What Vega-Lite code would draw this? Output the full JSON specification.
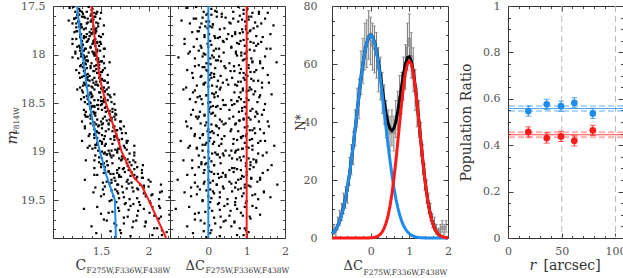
{
"$schema":"https://vega.github.io/schema/vega-lite/v6.json",
"padding":{"left":3,"top":-1,"right":0,"bottom":0},
"background":"white",
"config":{
 "view":{"stroke":"#333","strokeWidth":1},
 "axis":{"domain":false,"grid":false,"labelFont":"DejaVu Serif","labelFontSize":11,"labelColor":"#555","tickColor":"#444","tickWidth":1,"titleFont":"DejaVu Serif","titleFontSize":14,"titleFontWeight":"normal","titleColor":"#333","labelFlush":false,"labelOverlap":false}
},
"datasets":{
"stars":[
{"m":17.51,"c":1.21,"d":-0.32},{"m":17.53,"c":1.27,"d":0.08},{"m":17.56,"c":1.23,"d":-0.12},{"m":17.58,"c":1.31,"d":0.35},{"m":17.52,"c":1.17,"d":-0.55},{"m":17.55,"c":1.28,"d":0.18},{"m":17.59,"c":1.25,"d":-0.05},{"m":17.54,"c":1.40,"d":0.92},{"m":17.57,"c":1.43,"d":1.15},{"m":17.51,"c":1.37,"d":0.78},{"m":17.58,"c":1.45,"d":1.32},{"m":17.53,"c":1.41,"d":1.02},{"m":17.56,"c":1.35,"d":0.65},
{"m":17.61,"c":1.30,"d":0.22},{"m":17.63,"c":1.22,"d":-0.38},{"m":17.66,"c":1.27,"d":0.02},{"m":17.68,"c":1.24,"d":-0.18},{"m":17.62,"c":1.33,"d":0.45},{"m":17.65,"c":1.16,"d":-0.70},{"m":17.69,"c":1.29,"d":0.12},{"m":17.64,"c":1.40,"d":0.88},{"m":17.67,"c":1.45,"d":1.22},{"m":17.61,"c":1.43,"d":1.05},{"m":17.68,"c":1.35,"d":0.58},{"m":17.63,"c":1.49,"d":1.48},{"m":17.66,"c":1.41,"d":0.96},
{"m":17.71,"c":1.27,"d":-0.08},{"m":17.74,"c":1.32,"d":0.30},{"m":17.77,"c":1.22,"d":-0.42},{"m":17.72,"c":1.30,"d":0.10},{"m":17.76,"c":1.24,"d":-0.25},{"m":17.79,"c":1.35,"d":0.52},{"m":17.73,"c":1.28,"d":-0.02},{"m":17.75,"c":1.44,"d":1.10},{"m":17.78,"c":1.40,"d":0.82},{"m":17.71,"c":1.47,"d":1.28},{"m":17.77,"c":1.38,"d":0.70},{"m":17.74,"c":1.43,"d":0.98},{"m":17.79,"c":1.52,"d":1.62},
{"m":17.81,"c":1.32,"d":0.16},{"m":17.84,"c":1.24,"d":-0.30},{"m":17.87,"c":1.35,"d":0.40},{"m":17.82,"c":1.28,"d":-0.10},{"m":17.86,"c":1.30,"d":0.05},{"m":17.89,"c":1.20,"d":-0.62},{"m":17.83,"c":1.32,"d":0.25},{"m":17.85,"c":1.43,"d":0.92},{"m":17.88,"c":1.46,"d":1.18},{"m":17.81,"c":1.38,"d":0.62},{"m":17.87,"c":1.49,"d":1.38},{"m":17.84,"c":1.44,"d":1.02},{"m":17.89,"c":1.41,"d":0.80},
{"m":17.91,"c":1.27,"d":-0.20},{"m":17.94,"c":1.34,"d":0.28},{"m":17.97,"c":1.23,"d":-0.48},{"m":17.92,"c":1.30,"d":0.00},{"m":17.96,"c":1.32,"d":0.14},{"m":17.99,"c":1.29,"d":-0.12},{"m":17.93,"c":1.39,"d":0.60},{"m":17.95,"c":1.46,"d":1.08},{"m":17.98,"c":1.43,"d":0.86},{"m":17.91,"c":1.48,"d":1.25},{"m":17.97,"c":1.41,"d":0.72},{"m":17.94,"c":1.53,"d":1.52},{"m":17.99,"c":1.44,"d":0.95},
{"m":18.01,"c":1.32,"d":0.10},{"m":18.04,"c":1.26,"d":-0.35},{"m":18.07,"c":1.36,"d":0.33},{"m":18.02,"c":1.29,"d":-0.15},{"m":18.06,"c":1.34,"d":0.20},{"m":18.09,"c":1.31,"d":-0.05},{"m":18.03,"c":1.20,"d":-0.78},{"m":18.05,"c":1.45,"d":0.94},{"m":18.08,"c":1.48,"d":1.15},{"m":18.01,"c":1.43,"d":0.75},{"m":18.07,"c":1.51,"d":1.35},{"m":18.04,"c":1.46,"d":1.00},{"m":18.09,"c":1.40,"d":0.55},
{"m":18.11,"c":1.29,"d":-0.25},{"m":18.14,"c":1.35,"d":0.18},{"m":18.17,"c":1.32,"d":-0.02},{"m":18.12,"c":1.39,"d":0.42},{"m":18.16,"c":1.24,"d":-0.55},{"m":18.19,"c":1.33,"d":0.08},{"m":18.13,"c":1.31,"d":-0.10},{"m":18.15,"c":1.45,"d":0.85},{"m":18.18,"c":1.51,"d":1.20},{"m":18.11,"c":1.48,"d":1.05},{"m":18.17,"c":1.43,"d":0.68},{"m":18.14,"c":1.54,"d":1.42},{"m":18.19,"c":1.46,"d":0.92},
{"m":18.21,"c":1.34,"d":0.05},{"m":18.24,"c":1.28,"d":-0.40},{"m":18.27,"c":1.38,"d":0.25},{"m":18.22,"c":1.32,"d":-0.18},{"m":18.26,"c":1.41,"d":0.48},{"m":18.29,"c":1.32,"d":-0.08},{"m":18.23,"c":1.36,"d":0.15},{"m":18.25,"c":1.51,"d":1.12},{"m":18.28,"c":1.45,"d":0.78},{"m":18.21,"c":1.49,"d":0.98},{"m":18.27,"c":1.54,"d":1.30},{"m":18.24,"c":1.43,"d":0.62},{"m":18.29,"c":1.57,"d":1.58},
{"m":18.31,"c":1.33,"d":-0.12},{"m":18.34,"c":1.41,"d":0.32},{"m":18.37,"c":1.30,"d":-0.35},{"m":18.32,"c":1.37,"d":0.10},{"m":18.36,"c":1.25,"d":-0.65},{"m":18.39,"c":1.39,"d":0.20},{"m":18.33,"c":1.35,"d":0.00},{"m":18.35,"c":1.50,"d":0.90},{"m":18.38,"c":1.54,"d":1.22},{"m":18.31,"c":1.46,"d":0.70},{"m":18.37,"c":1.52,"d":1.05},{"m":18.34,"c":1.58,"d":1.40},{"m":18.39,"c":1.49,"d":0.84},
{"m":18.41,"c":1.40,"d":0.15},{"m":18.44,"c":1.32,"d":-0.28},{"m":18.47,"c":1.43,"d":0.38},{"m":18.42,"c":1.36,"d":-0.05},{"m":18.46,"c":1.29,"d":-0.48},{"m":18.49,"c":1.38,"d":0.05},{"m":18.43,"c":1.41,"d":0.25},{"m":18.45,"c":1.54,"d":1.00},{"m":18.48,"c":1.50,"d":0.76},{"m":18.41,"c":1.57,"d":1.18},{"m":18.47,"c":1.47,"d":0.60},{"m":18.44,"c":1.60,"d":1.33},{"m":18.49,"c":1.53,"d":0.94},
{"m":18.51,"c":1.36,"d":-0.15},{"m":18.54,"c":1.43,"d":0.20},{"m":18.57,"c":1.32,"d":-0.40},{"m":18.52,"c":1.47,"d":0.45},{"m":18.56,"c":1.39,"d":0.02},{"m":18.59,"c":1.34,"d":-0.22},{"m":18.53,"c":1.41,"d":0.12},{"m":18.55,"c":1.54,"d":0.88},{"m":18.58,"c":1.59,"d":1.10},{"m":18.51,"c":1.51,"d":0.68},{"m":18.57,"c":1.65,"d":1.45},{"m":18.54,"c":1.56,"d":0.98},{"m":18.59,"c":1.62,"d":1.25},
{"m":18.61,"c":1.43,"d":0.08},{"m":18.64,"c":1.34,"d":-0.32},{"m":18.67,"c":1.46,"d":0.30},{"m":18.62,"c":1.39,"d":-0.10},{"m":18.66,"c":1.52,"d":0.55},{"m":18.69,"c":1.30,"d":-0.58},{"m":18.63,"c":1.44,"d":0.18},{"m":18.65,"c":1.61,"d":1.05},{"m":18.68,"c":1.56,"d":0.80},{"m":18.61,"c":1.65,"d":1.28},{"m":18.67,"c":1.59,"d":0.92},{"m":18.64,"c":1.54,"d":0.65},{"m":18.69,"c":1.71,"d":1.55},
{"m":18.71,"c":1.39,"d":-0.20},{"m":18.74,"c":1.47,"d":0.22},{"m":18.77,"c":1.43,"d":0.00},{"m":18.72,"c":1.51,"d":0.40},{"m":18.76,"c":1.33,"d":-0.45},{"m":18.79,"c":1.45,"d":0.10},{"m":18.73,"c":1.42,"d":-0.08},{"m":18.75,"c":1.63,"d":0.95},{"m":18.78,"c":1.66,"d":1.15},{"m":18.71,"c":1.58,"d":0.72},{"m":18.77,"c":1.71,"d":1.35},{"m":18.74,"c":1.64,"d":1.02},{"m":18.79,"c":1.55,"d":0.58},
{"m":18.81,"c":1.48,"d":0.14},{"m":18.84,"c":1.37,"d":-0.36},{"m":18.87,"c":1.53,"d":0.35},{"m":18.82,"c":1.43,"d":-0.14},{"m":18.86,"c":1.46,"d":0.05},{"m":18.89,"c":1.30,"d":-0.72},{"m":18.83,"c":1.51,"d":0.25},{"m":18.85,"c":1.64,"d":0.85},{"m":18.88,"c":1.69,"d":1.08},{"m":18.81,"c":1.72,"d":1.22},{"m":18.87,"c":1.60,"d":0.66},{"m":18.84,"c":1.66,"d":0.98},{"m":18.89,"c":1.77,"d":1.48},
{"m":18.91,"c":1.46,"d":-0.05},{"m":18.94,"c":1.54,"d":0.28},{"m":18.97,"c":1.41,"d":-0.30},{"m":18.92,"c":1.51,"d":0.12},{"m":18.96,"c":1.36,"d":-0.52},{"m":18.99,"c":1.58,"d":0.45},{"m":18.93,"c":1.44,"d":-0.15},{"m":18.95,"c":1.70,"d":1.00},{"m":18.98,"c":1.65,"d":0.78},{"m":18.91,"c":1.77,"d":1.30},{"m":18.97,"c":1.68,"d":0.90},{"m":18.94,"c":1.74,"d":1.15},{"m":18.99,"c":1.61,"d":0.60},
{"m":19.01,"c":1.54,"d":0.18},{"m":19.04,"c":1.44,"d":-0.25},{"m":19.07,"c":1.51,"d":0.02},{"m":19.02,"c":1.59,"d":0.38},{"m":19.06,"c":1.48,"d":-0.10},{"m":19.09,"c":1.34,"d":-0.65},{"m":19.03,"c":1.56,"d":0.25},{"m":19.05,"c":1.72,"d":0.92},{"m":19.08,"c":1.78,"d":1.18},{"m":19.01,"c":1.67,"d":0.70},{"m":19.07,"c":1.75,"d":1.05},{"m":19.04,"c":1.85,"d":1.42},{"m":19.09,"c":1.71,"d":0.85},
{"m":19.11,"c":1.48,"d":-0.18},{"m":19.14,"c":1.57,"d":0.15},{"m":19.17,"c":1.43,"d":-0.42},{"m":19.12,"c":1.62,"d":0.32},{"m":19.16,"c":1.54,"d":0.00},{"m":19.19,"c":1.67,"d":0.55},{"m":19.13,"c":1.51,"d":-0.08},{"m":19.15,"c":1.78,"d":0.98},{"m":19.18,"c":1.73,"d":0.75},{"m":19.11,"c":1.86,"d":1.25},{"m":19.17,"c":1.69,"d":0.62},{"m":19.14,"c":1.82,"d":1.10},{"m":19.19,"c":1.93,"d":1.55},
{"m":19.21,"c":1.58,"d":0.08},{"m":19.24,"c":1.46,"d":-0.35},{"m":19.27,"c":1.64,"d":0.28},{"m":19.22,"c":1.53,"d":-0.12},{"m":19.26,"c":1.69,"d":0.45},{"m":19.29,"c":1.33,"d":-0.80},{"m":19.23,"c":1.60,"d":0.15},{"m":19.25,"c":1.81,"d":0.88},{"m":19.28,"c":1.87,"d":1.12},{"m":19.21,"c":1.75,"d":0.66},{"m":19.27,"c":1.94,"d":1.35},{"m":19.24,"c":1.85,"d":1.00},{"m":19.29,"c":1.78,"d":0.78},
{"m":19.31,"c":1.56,"d":-0.10},{"m":19.34,"c":1.67,"d":0.22},{"m":19.37,"c":1.44,"d":-0.45},{"m":19.32,"c":1.61,"d":0.05},{"m":19.36,"c":1.72,"d":0.38},{"m":19.39,"c":1.52,"d":-0.22},{"m":19.33,"c":1.79,"d":0.60},{"m":19.35,"c":1.95,"d":1.05},{"m":19.38,"c":1.88,"d":0.85},{"m":19.31,"c":2.02,"d":1.28},{"m":19.37,"c":1.83,"d":0.70},{"m":19.34,"c":1.91,"d":0.95},
{"m":19.41,"c":1.67,"d":0.12},{"m":19.44,"c":1.53,"d":-0.30},{"m":19.47,"c":1.74,"d":0.30},{"m":19.42,"c":1.42,"d":-0.62},{"m":19.46,"c":1.63,"d":0.00},{"m":19.49,"c":1.80,"d":0.50},{"m":19.43,"c":1.95,"d":0.92},{"m":19.45,"c":2.03,"d":1.15},{"m":19.48,"c":1.88,"d":0.72},{"m":19.41,"c":2.14,"d":1.45},
{"m":19.51,"c":1.59,"d":-0.15},{"m":19.54,"c":1.75,"d":0.25},{"m":19.57,"c":1.46,"d":-0.50},{"m":19.52,"c":1.66,"d":0.05},{"m":19.56,"c":1.81,"d":0.42},{"m":19.59,"c":1.32,"d":-0.85},{"m":19.53,"c":2.02,"d":0.98},{"m":19.55,"c":1.91,"d":0.70},{"m":19.58,"c":2.12,"d":1.25},
{"m":19.61,"c":1.69,"d":0.10},{"m":19.64,"c":1.50,"d":-0.35},{"m":19.67,"c":1.78,"d":0.32},{"m":19.62,"c":1.62,"d":-0.08},{"m":19.66,"c":1.88,"d":0.55},{"m":19.69,"c":2.11,"d":1.10},{"m":19.63,"c":2.01,"d":0.85},{"m":19.65,"c":2.22,"d":1.35},
{"m":19.71,"c":1.56,"d":-0.20},{"m":19.74,"c":1.74,"d":0.18},{"m":19.77,"c":1.40,"d":-0.55},{"m":19.72,"c":1.84,"d":0.40},{"m":19.76,"c":1.66,"d":0.02},{"m":19.79,"c":2.09,"d":0.95},{"m":19.73,"c":1.97,"d":0.68},
{"m":19.81,"c":1.70,"d":0.08},{"m":19.84,"c":1.45,"d":-0.40},{"m":19.87,"c":1.81,"d":0.30},{"m":19.82,"c":1.60,"d":-0.12},{"m":19.86,"c":2.04,"d":0.75},{"m":19.83,"c":2.19,"d":1.05},
{"m":17.56,"c":1.46,"d":1.32},{"m":17.58,"c":1.40,"d":0.92},{"m":17.61,"c":1.44,"d":1.12},{"m":17.63,"c":1.36,"d":0.65},{"m":17.57,"c":1.50,"d":1.55},{"m":17.60,"c":1.39,"d":0.82},{"m":17.64,"c":1.42,"d":1.05},{"m":17.59,"c":1.27,"d":0.08},{"m":17.62,"c":1.24,"d":-0.15},{"m":17.56,"c":1.30,"d":0.22},{"m":17.63,"c":1.22,"d":-0.32},{"m":17.58,"c":1.26,"d":-0.02},{"m":17.61,"c":1.32,"d":0.35},
{"m":17.66,"c":1.39,"d":0.78},{"m":17.68,"c":1.47,"d":1.38},{"m":17.71,"c":1.42,"d":0.98},{"m":17.73,"c":1.45,"d":1.18},{"m":17.67,"c":1.36,"d":0.55},{"m":17.70,"c":1.53,"d":1.70},{"m":17.74,"c":1.40,"d":0.88},{"m":17.69,"c":1.29,"d":0.12},{"m":17.72,"c":1.24,"d":-0.22},{"m":17.66,"c":1.26,"d":-0.05},{"m":17.73,"c":1.34,"d":0.42},{"m":17.68,"c":1.20,"d":-0.48},{"m":17.71,"c":1.28,"d":0.04},
{"m":17.76,"c":1.45,"d":1.08},{"m":17.79,"c":1.40,"d":0.70},{"m":17.82,"c":1.50,"d":1.42},{"m":17.77,"c":1.42,"d":0.90},{"m":17.81,"c":1.48,"d":1.25},{"m":17.84,"c":1.37,"d":0.48},{"m":17.78,"c":1.44,"d":1.02},{"m":17.80,"c":1.28,"d":-0.10},{"m":17.83,"c":1.32,"d":0.18},{"m":17.76,"c":1.25,"d":-0.28},{"m":17.82,"c":1.34,"d":0.30},{"m":17.79,"c":1.29,"d":0.02},{"m":17.84,"c":1.20,"d":-0.62},
{"m":17.86,"c":1.42,"d":0.84},{"m":17.89,"c":1.50,"d":1.30},{"m":17.92,"c":1.39,"d":0.60},{"m":17.87,"c":1.46,"d":1.10},{"m":17.91,"c":1.44,"d":0.95},{"m":17.94,"c":1.54,"d":1.62},{"m":17.88,"c":1.42,"d":0.75},{"m":17.90,"c":1.31,"d":0.08},{"m":17.93,"c":1.28,"d":-0.18},{"m":17.86,"c":1.36,"d":0.38},{"m":17.92,"c":1.25,"d":-0.38},{"m":17.89,"c":1.30,"d":-0.02},{"m":17.94,"c":1.33,"d":0.20},
{"m":17.96,"c":1.49,"d":1.20},{"m":17.99,"c":1.42,"d":0.72},{"m":18.02,"c":1.53,"d":1.48},{"m":17.97,"c":1.46,"d":1.00},{"m":18.01,"c":1.44,"d":0.86},{"m":18.04,"c":1.47,"d":1.12},{"m":17.98,"c":1.37,"d":0.40},{"m":18.00,"c":1.30,"d":-0.08},{"m":18.03,"c":1.33,"d":0.14},{"m":17.96,"c":1.28,"d":-0.25},{"m":18.02,"c":1.35,"d":0.28},{"m":17.99,"c":1.23,"d":-0.52},{"m":18.04,"c":1.32,"d":0.05},
{"m":18.06,"c":1.47,"d":0.90},{"m":18.09,"c":1.53,"d":1.35},{"m":18.12,"c":1.43,"d":0.67},{"m":18.07,"c":1.50,"d":1.15},{"m":18.11,"c":1.45,"d":0.80},{"m":18.14,"c":1.48,"d":1.05},{"m":18.08,"c":1.59,"d":1.78},{"m":18.10,"c":1.34,"d":0.06},{"m":18.13,"c":1.31,"d":-0.15},{"m":18.06,"c":1.36,"d":0.25},{"m":18.12,"c":1.28,"d":-0.35},{"m":18.09,"c":1.33,"d":0.00},{"m":18.14,"c":1.39,"d":0.45},
{"m":18.16,"c":1.52,"d":1.25},{"m":18.19,"c":1.46,"d":0.82},{"m":18.22,"c":1.49,"d":1.02},{"m":18.17,"c":1.42,"d":0.58},{"m":18.21,"c":1.57,"d":1.55},{"m":18.24,"c":1.48,"d":0.92},{"m":18.18,"c":1.50,"d":1.10},{"m":18.20,"c":1.36,"d":0.15},{"m":18.23,"c":1.30,"d":-0.20},{"m":18.16,"c":1.33,"d":-0.05},{"m":18.22,"c":1.38,"d":0.32},{"m":18.19,"c":1.27,"d":-0.42},{"m":18.24,"c":1.35,"d":0.08},
{"m":18.26,"c":1.51,"d":0.95},{"m":18.29,"c":1.57,"d":1.40},{"m":18.32,"c":1.47,"d":0.75},{"m":18.27,"c":1.53,"d":1.18},{"m":18.31,"c":1.44,"d":0.52},{"m":18.34,"c":1.53,"d":1.08},{"m":18.28,"c":1.49,"d":0.85},{"m":18.30,"c":1.34,"d":-0.12},{"m":18.33,"c":1.40,"d":0.22},{"m":18.26,"c":1.36,"d":0.02},{"m":18.32,"c":1.31,"d":-0.30},{"m":18.29,"c":1.42,"d":0.38},{"m":18.34,"c":1.28,"d":-0.58},
{"m":18.36,"c":1.56,"d":1.12},{"m":18.39,"c":1.48,"d":0.68},{"m":18.42,"c":1.59,"d":1.35},{"m":18.37,"c":1.52,"d":0.90},{"m":18.41,"c":1.64,"d":1.65},{"m":18.44,"c":1.50,"d":0.80},{"m":18.38,"c":1.54,"d":1.00},{"m":18.40,"c":1.39,"d":0.10},{"m":18.43,"c":1.35,"d":-0.22},{"m":18.36,"c":1.43,"d":0.30},{"m":18.42,"c":1.37,"d":-0.05},{"m":18.39,"c":1.31,"d":-0.40},{"m":18.44,"c":1.40,"d":0.16},
{"m":18.46,"c":1.53,"d":0.85},{"m":18.49,"c":1.61,"d":1.28},{"m":18.52,"c":1.50,"d":0.62},{"m":18.47,"c":1.57,"d":1.05},{"m":18.51,"c":1.64,"d":1.48},{"m":18.54,"c":1.55,"d":0.95},{"m":18.48,"c":1.52,"d":0.75},{"m":18.50,"c":1.39,"d":0.00},{"m":18.53,"c":1.43,"d":0.24},{"m":18.46,"c":1.36,"d":-0.18},{"m":18.52,"c":1.46,"d":0.40},{"m":18.49,"c":1.33,"d":-0.33},{"m":18.54,"c":1.40,"d":0.06},
{"m":18.56,"c":1.62,"d":1.15},{"m":18.59,"c":1.55,"d":0.80},{"m":18.62,"c":1.66,"d":1.40},{"m":18.57,"c":1.51,"d":0.55},{"m":18.61,"c":1.59,"d":0.98},{"m":18.64,"c":1.64,"d":1.22},{"m":18.58,"c":1.57,"d":0.88},{"m":18.60,"c":1.44,"d":0.12},{"m":18.63,"c":1.39,"d":-0.10},{"m":18.56,"c":1.47,"d":0.32},{"m":18.62,"c":1.33,"d":-0.45},{"m":18.59,"c":1.42,"d":0.02},{"m":18.64,"c":1.36,"d":-0.25},
{"m":18.66,"c":1.61,"d":0.92},{"m":18.69,"c":1.70,"d":1.32},{"m":18.72,"c":1.58,"d":0.70},{"m":18.67,"c":1.65,"d":1.10},{"m":18.71,"c":1.52,"d":0.45},{"m":18.74,"c":1.74,"d":1.58},{"m":18.68,"c":1.60,"d":0.82},{"m":18.70,"c":1.43,"d":-0.05},{"m":18.73,"c":1.48,"d":0.20},{"m":18.66,"c":1.39,"d":-0.28},{"m":18.72,"c":1.45,"d":0.08},{"m":18.69,"c":1.50,"d":0.35},{"m":18.74,"c":1.33,"d":-0.55},
{"m":18.76,"c":1.70,"d":1.20},{"m":18.79,"c":1.62,"d":0.78},{"m":18.82,"c":1.66,"d":1.00},{"m":18.77,"c":1.58,"d":0.60},{"m":18.81,"c":1.76,"d":1.45},{"m":18.84,"c":1.64,"d":0.90},{"m":18.78,"c":1.67,"d":1.08},{"m":18.80,"c":1.46,"d":0.05},{"m":18.83,"c":1.43,"d":-0.15},{"m":18.76,"c":1.51,"d":0.28},{"m":18.82,"c":1.38,"d":-0.35},{"m":18.79,"c":1.45,"d":-0.02},{"m":18.84,"c":1.54,"d":0.42},
{"m":18.86,"c":1.67,"d":0.86},{"m":18.89,"c":1.78,"d":1.36},{"m":18.92,"c":1.62,"d":0.65},{"m":18.87,"c":1.72,"d":1.14},{"m":18.91,"c":1.69,"d":0.95},{"m":18.94,"c":1.85,"d":1.72},{"m":18.88,"c":1.64,"d":0.75},{"m":18.90,"c":1.51,"d":0.15},{"m":18.93,"c":1.46,"d":-0.08},{"m":18.86,"c":1.43,"d":-0.22},{"m":18.92,"c":1.55,"d":0.34},{"m":18.89,"c":1.49,"d":0.02},{"m":18.94,"c":1.38,"d":-0.48},
{"m":18.96,"c":1.75,"d":1.05},{"m":18.99,"c":1.67,"d":0.72},{"m":19.02,"c":1.80,"d":1.30},{"m":18.97,"c":1.70,"d":0.88},{"m":19.01,"c":1.85,"d":1.52},{"m":19.04,"c":1.63,"d":0.55},{"m":18.98,"c":1.77,"d":1.15},{"m":19.00,"c":1.51,"d":0.00},{"m":19.03,"c":1.56,"d":0.22},{"m":18.96,"c":1.44,"d":-0.30},{"m":19.02,"c":1.53,"d":0.10},{"m":18.99,"c":1.47,"d":-0.15},{"m":19.04,"c":1.60,"d":0.40},
{"m":19.06,"c":1.74,"d":0.82},{"m":19.09,"c":1.84,"d":1.25},{"m":19.12,"c":1.77,"d":0.98},{"m":19.07,"c":1.69,"d":0.62},{"m":19.11,"c":1.80,"d":1.10},{"m":19.14,"c":1.94,"d":1.65},{"m":19.08,"c":1.72,"d":0.75},{"m":19.10,"c":1.56,"d":0.08},{"m":19.13,"c":1.50,"d":-0.18},{"m":19.06,"c":1.61,"d":0.30},{"m":19.12,"c":1.53,"d":-0.05},{"m":19.09,"c":1.43,"d":-0.42},{"m":19.14,"c":1.57,"d":0.15},
{"m":19.16,"c":1.88,"d":1.18},{"m":19.19,"c":1.79,"d":0.85},{"m":19.22,"c":1.93,"d":1.42},{"m":19.17,"c":1.74,"d":0.68},{"m":19.21,"c":1.82,"d":1.00},{"m":19.24,"c":1.69,"d":0.45},{"m":19.18,"c":1.85,"d":1.08},{"m":19.20,"c":1.58,"d":0.02},{"m":19.23,"c":1.63,"d":0.25},{"m":19.16,"c":1.50,"d":-0.25},{"m":19.22,"c":1.67,"d":0.38},{"m":19.19,"c":1.54,"d":-0.10},{"m":19.24,"c":1.43,"d":-0.55},
{"m":19.26,"c":1.88,"d":0.92},{"m":19.29,"c":2.00,"d":1.35},{"m":19.32,"c":1.82,"d":0.72},{"m":19.27,"c":1.93,"d":1.12},{"m":19.31,"c":1.77,"d":0.55},{"m":19.34,"c":2.13,"d":1.80},{"m":19.28,"c":1.86,"d":0.85},{"m":19.30,"c":1.65,"d":0.12},{"m":19.33,"c":1.59,"d":-0.12},{"m":19.26,"c":1.71,"d":0.34},{"m":19.32,"c":1.52,"d":-0.35},{"m":19.29,"c":1.61,"d":0.00},{"m":19.34,"c":1.68,"d":0.22},
{"m":19.36,"c":2.00,"d":1.10},{"m":19.39,"c":1.89,"d":0.78},{"m":19.42,"c":2.12,"d":1.45},{"m":19.37,"c":1.95,"d":0.95},{"m":19.41,"c":1.84,"d":0.62},{"m":19.44,"c":2.04,"d":1.22},{"m":19.38,"c":1.77,"d":0.40},{"m":19.40,"c":1.61,"d":-0.05},{"m":19.43,"c":1.68,"d":0.15},{"m":19.36,"c":1.54,"d":-0.28},{"m":19.42,"c":1.73,"d":0.30},{"m":19.39,"c":1.65,"d":0.05},
{"m":19.46,"c":1.97,"d":0.88},{"m":19.49,"c":2.11,"d":1.30},{"m":19.52,"c":1.90,"d":0.70},{"m":19.47,"c":2.22,"d":1.62},{"m":19.51,"c":2.01,"d":1.00},{"m":19.54,"c":1.84,"d":0.50},{"m":19.48,"c":1.69,"d":0.08},{"m":19.50,"c":1.61,"d":-0.15},{"m":19.53,"c":1.76,"d":0.28},{"m":19.46,"c":1.50,"d":-0.45},
{"m":19.56,"c":2.11,"d":1.15},{"m":19.59,"c":1.95,"d":0.75},{"m":19.57,"c":2.04,"d":0.95},{"m":19.61,"c":1.89,"d":0.58},{"m":19.58,"c":1.68,"d":0.02},{"m":19.60,"c":1.79,"d":0.30},{"m":19.63,"c":1.58,"d":-0.25},
{"m":19.66,"c":2.06,"d":0.90},{"m":19.72,"c":1.97,"d":0.68},{"m":19.67,"c":2.13,"d":1.08},{"m":19.71,"c":1.87,"d":0.45},{"m":19.74,"c":1.64,"d":-0.10},{"m":19.68,"c":1.74,"d":0.15},{"m":19.70,"c":1.53,"d":-0.35},
{"m":19.79,"c":2.06,"d":0.82},{"m":19.77,"c":1.96,"d":0.60},{"m":19.81,"c":2.14,"d":0.98},{"m":19.84,"c":1.71,"d":0.05},{"m":19.78,"c":1.83,"d":0.32},
{"m":19.86,"c":2.14,"d":0.92},{"m":19.88,"c":1.65,"d":-0.05}
],
"fid":[
{"pop":"b","c":1.248,"m":17.5},{"pop":"b","c":1.277,"m":17.75},{"pop":"b","c":1.306,"m":18.0},{"pop":"b","c":1.340,"m":18.25},{"pop":"b","c":1.375,"m":18.5},{"pop":"b","c":1.427,"m":18.75},{"pop":"b","c":1.488,"m":19.0},{"pop":"b","c":1.558,"m":19.25},{"pop":"b","c":1.646,"m":19.5},{"pop":"b","c":1.656,"m":19.89},
{"pop":"r","c":1.400,"m":17.5},{"pop":"r","c":1.424,"m":17.75},{"pop":"r","c":1.453,"m":18.0},{"pop":"r","c":1.488,"m":18.25},{"pop":"r","c":1.551,"m":18.5},{"pop":"r","c":1.635,"m":18.75},{"pop":"r","c":1.717,"m":19.0},{"pop":"r","c":1.811,"m":19.2},{"pop":"r","c":1.849,"m":19.27},{"pop":"r","c":1.927,"m":19.35},{"pop":"r","c":2.001,"m":19.5},{"pop":"r","c":2.184,"m":19.89}
],
"vl":[{"d":0,"pop":"b"},{"d":1,"pop":"r"}],
"hist":[
{"x":-0.95,"n":3,"lo":1.3,"hi":4.7},{"x":-0.90,"n":2,"lo":0.6,"hi":3.4},{"x":-0.85,"n":5,"lo":2.8,"hi":7.2},{"x":-0.80,"n":7,"lo":4.4,"hi":9.6},{"x":-0.75,"n":9,"lo":6.0,"hi":12.0},{"x":-0.70,"n":12,"lo":8.5,"hi":15.5},{"x":-0.65,"n":14,"lo":10.3,"hi":17.7},{"x":-0.60,"n":16,"lo":12.0,"hi":20.0},{"x":-0.55,"n":23,"lo":18.2,"hi":27.8},{"x":-0.50,"n":27,"lo":21.8,"hi":32.2},{"x":-0.45,"n":31,"lo":25.4,"hi":36.6},{"x":-0.40,"n":38,"lo":31.8,"hi":44.2},{"x":-0.35,"n":45,"lo":38.3,"hi":51.7},{"x":-0.30,"n":48,"lo":41.1,"hi":54.9},{"x":-0.25,"n":57,"lo":49.5,"hi":64.5},{"x":-0.20,"n":61,"lo":53.2,"hi":68.8},{"x":-0.15,"n":66,"lo":57.9,"hi":74.1},{"x":-0.10,"n":67,"lo":58.8,"hi":75.2},{"x":-0.05,"n":70,"lo":61.6,"hi":78.4},{"x":0.00,"n":68,"lo":59.8,"hi":76.2},
{"x":0.05,"n":66,"lo":57.9,"hi":74.1},{"x":0.10,"n":65,"lo":56.9,"hi":73.1},{"x":0.15,"n":63,"lo":55.1,"hi":70.9},{"x":0.20,"n":58,"lo":50.4,"hi":65.6},{"x":0.25,"n":55,"lo":47.6,"hi":62.4},{"x":0.30,"n":50,"lo":42.9,"hi":57.1},{"x":0.35,"n":46,"lo":39.2,"hi":52.8},{"x":0.40,"n":41,"lo":34.6,"hi":47.4},{"x":0.45,"n":38,"lo":31.8,"hi":44.2},{"x":0.50,"n":36,"lo":30.0,"hi":42.0},{"x":0.55,"n":38,"lo":31.8,"hi":44.2},{"x":0.60,"n":36,"lo":30.0,"hi":42.0},{"x":0.65,"n":41,"lo":34.6,"hi":47.4},{"x":0.70,"n":44,"lo":37.4,"hi":50.6},{"x":0.75,"n":49,"lo":42.0,"hi":56.0},{"x":0.80,"n":50,"lo":42.9,"hi":57.1},{"x":0.85,"n":55,"lo":47.6,"hi":62.4},{"x":0.90,"n":59,"lo":51.3,"hi":66.7},{"x":0.95,"n":66,"lo":57.9,"hi":74.1},{"x":1.00,"n":69,"lo":60.7,"hi":77.3},
{"x":1.05,"n":63,"lo":55.1,"hi":70.9},{"x":1.10,"n":58,"lo":50.4,"hi":65.6},{"x":1.15,"n":51,"lo":43.9,"hi":58.1},{"x":1.20,"n":45,"lo":38.3,"hi":51.7},{"x":1.25,"n":41,"lo":34.6,"hi":47.4},{"x":1.30,"n":34,"lo":28.2,"hi":39.8},{"x":1.35,"n":27,"lo":21.8,"hi":32.2},{"x":1.40,"n":21,"lo":16.4,"hi":25.6},{"x":1.45,"n":16,"lo":12.0,"hi":20.0},{"x":1.50,"n":12,"lo":8.5,"hi":15.5},{"x":1.55,"n":9,"lo":6.0,"hi":12.0},{"x":1.60,"n":6,"lo":3.6,"hi":8.4},{"x":1.65,"n":5,"lo":2.8,"hi":7.2},{"x":1.70,"n":3,"lo":1.3,"hi":4.7},{"x":1.75,"n":2,"lo":0.6,"hi":3.4},{"x":1.80,"n":3,"lo":1.3,"hi":4.7},{"x":1.85,"n":4,"lo":2.0,"hi":6.0},{"x":1.90,"n":3,"lo":1.3,"hi":4.7},{"x":1.95,"n":4,"lo":2.0,"hi":6.0}
],
"curves":[
{"x":-1.00,"b":1.5,"r":0,"t":1.5},{"x":-0.95,"b":2.15,"r":0,"t":2.15},{"x":-0.90,"b":3.1,"r":0,"t":3.1},{"x":-0.85,"b":4.3,"r":0,"t":4.3},{"x":-0.80,"b":5.9,"r":0,"t":5.9},{"x":-0.75,"b":8.0,"r":0,"t":8.0},{"x":-0.70,"b":10.6,"r":0,"t":10.6},{"x":-0.65,"b":13.7,"r":0,"t":13.7},{"x":-0.60,"b":17.4,"r":0,"t":17.4},{"x":-0.55,"b":21.8,"r":0,"t":21.8},{"x":-0.50,"b":26.7,"r":0,"t":26.7},{"x":-0.45,"b":32.0,"r":0,"t":32.0},{"x":-0.40,"b":37.7,"r":0,"t":37.7},{"x":-0.35,"b":43.6,"r":0,"t":43.6},{"x":-0.30,"b":49.5,"r":0,"t":49.5},{"x":-0.25,"b":55.0,"r":0,"t":55.0},{"x":-0.20,"b":60.0,"r":0,"t":60.0},{"x":-0.15,"b":64.2,"r":0,"t":64.2},{"x":-0.10,"b":67.4,"r":0,"t":67.4},{"x":-0.05,"b":69.3,"r":0,"t":69.3},
{"x":0.00,"b":70.0,"r":0.06,"t":70.1},{"x":0.05,"b":69.3,"r":0.12,"t":69.4},{"x":0.10,"b":67.4,"r":0.24,"t":67.6},{"x":0.15,"b":64.2,"r":0.43,"t":64.6},{"x":0.20,"b":60.0,"r":0.76,"t":60.8},{"x":0.25,"b":55.0,"r":1.3,"t":56.3},{"x":0.30,"b":49.5,"r":2.1,"t":51.6},{"x":0.35,"b":43.6,"r":3.4,"t":47.0},{"x":0.40,"b":37.7,"r":5.2,"t":42.9},{"x":0.45,"b":32.0,"r":7.7,"t":39.7},{"x":0.50,"b":26.7,"r":11.0,"t":37.7},{"x":0.55,"b":21.8,"r":15.2,"t":37.0},{"x":0.60,"b":17.4,"r":20.4,"t":37.8},{"x":0.65,"b":13.7,"r":26.3,"t":40.0},{"x":0.70,"b":10.6,"r":32.9,"t":43.5},{"x":0.75,"b":8.0,"r":39.7,"t":47.7},{"x":0.80,"b":5.9,"r":46.4,"t":52.3},{"x":0.85,"b":4.3,"r":52.3,"t":56.6},{"x":0.90,"b":3.1,"r":57.0,"t":60.1},{"x":0.95,"b":2.15,"r":60.0,"t":62.2},
{"x":1.00,"b":1.5,"r":61.0,"t":62.5},{"x":1.05,"b":1.0,"r":60.0,"t":61.0},{"x":1.10,"b":0.66,"r":57.0,"t":57.7},{"x":1.15,"b":0.43,"r":52.3,"t":52.7},{"x":1.20,"b":0.27,"r":46.4,"t":46.7},{"x":1.25,"b":0.17,"r":39.7,"t":39.9},{"x":1.30,"b":0.1,"r":32.9,"t":33.0},{"x":1.35,"b":0.06,"r":26.3,"t":26.4},{"x":1.40,"b":0.03,"r":20.4,"t":20.4},{"x":1.45,"b":0,"r":15.2,"t":15.2},{"x":1.50,"b":0,"r":11.0,"t":11.0},{"x":1.55,"b":0,"r":7.7,"t":7.7},{"x":1.60,"b":0,"r":5.2,"t":5.2},{"x":1.65,"b":0,"r":3.4,"t":3.4},{"x":1.70,"b":0,"r":2.1,"t":2.1},{"x":1.75,"b":0,"r":1.3,"t":1.3},{"x":1.80,"b":0,"r":0.76,"t":0.76},{"x":1.85,"b":0,"r":0.43,"t":0.43},{"x":1.90,"b":0,"r":0.24,"t":0.24},{"x":1.95,"b":0,"r":0.12,"t":0.12},{"x":2.00,"b":0,"r":0.06,"t":0.06}
],
"ratio":[
{"pop":"b","r":18.9,"v":0.547,"lo":0.525,"hi":0.569},{"pop":"b","r":36.0,"v":0.576,"lo":0.554,"hi":0.598},{"pop":"b","r":49.3,"v":0.568,"lo":0.546,"hi":0.590},{"pop":"b","r":61.7,"v":0.583,"lo":0.561,"hi":0.605},{"pop":"b","r":78.9,"v":0.537,"lo":0.515,"hi":0.559},
{"pop":"r","r":18.9,"v":0.457,"lo":0.435,"hi":0.479},{"pop":"r","r":36.0,"v":0.431,"lo":0.409,"hi":0.453},{"pop":"r","r":49.3,"v":0.438,"lo":0.416,"hi":0.460},{"pop":"r","r":61.7,"v":0.419,"lo":0.397,"hi":0.441},{"pop":"r","r":78.9,"v":0.464,"lo":0.442,"hi":0.486}
],
"means":[{"pop":"b","mean":0.558,"lo":0.547,"hi":0.569},{"pop":"r","mean":0.445,"lo":0.434,"hi":0.456}],
"vr":[{"r":50},{"r":100}]
},
"spacing":3,
"hconcat":[
{"bounds":"flush","spacing":0,"hconcat":[
{"width":117,"height":232,
 "layer":[
  {"data":{"name":"stars"},"mark":{"type":"square","size":5,"color":"#000","opacity":1},
   "encoding":{
    "x":{"field":"c","type":"quantitative","scale":{"domain":[0.995,2.225],"nice":false,"zero":false},
     "axis":{"orient":"bottom","values":[1.5,2],"format":".4~g","tickSize":-5,"labelPadding":12,"title":"C","titleAlign":"left","titleBaseline":"alphabetic","titleX":22,"titleY":31}},
    "y":{"field":"m","type":"quantitative","scale":{"domain":[17.5,19.89],"reverse":true,"nice":false,"zero":false},
     "axis":{"orient":"left","values":[17.5,18,18.5,19,19.5],"format":".4~g","tickSize":-5,"labelPadding":13,"title":"m","titleFontSize":15,"titleFontStyle":"italic","titleAngle":-90,"titleAlign":"left","titleBaseline":"alphabetic","titleX":-37,"titleY":138}}}},
  {"data":{"name":"fid"},"mark":{"type":"line","strokeWidth":2},
   "encoding":{"x":{"field":"c","type":"quantitative","axis":null},"y":{"field":"m","type":"quantitative","axis":null},
    "color":{"field":"pop","type":"nominal","scale":{"domain":["b","r"],"range":["#1f8ceb","#ff1a1a"]},"legend":null},
    "order":{"field":"m","type":"quantitative"}}},
  {"data":{"values":[{}]},"mark":{"type":"point","opacity":0},
   "encoding":{"x":{"datum":1.5,"type":"quantitative","axis":{"orient":"bottom","values":[1.1,1.2,1.3,1.4,1.6,1.7,1.8,1.9,2.1,2.2],"tickSize":-2.5,"labels":false,"title":null}},
    "y":{"datum":18,"type":"quantitative","axis":{"orient":"left","values":[17.6,17.7,17.8,17.9,18.1,18.2,18.3,18.4,18.6,18.7,18.8,18.9,19.1,19.2,19.3,19.4,19.6,19.7,19.8],"tickSize":-2.5,"labels":false,"title":null}}}},
  {"data":{"values":[{}]},"mark":{"type":"point","opacity":0},
   "encoding":{"x":{"datum":1.5,"type":"quantitative","axis":{"orient":"top","values":[1.5,2],"tickSize":-5,"labels":false,"title":"F275W,F336W,F438W","titleFontSize":7.5,"titleAngle":0,"titleAlign":"left","titleBaseline":"alphabetic","titleX":33,"titleY":266}},
    "y":{"datum":18,"type":"quantitative","axis":{"orient":"right","values":[17.5,18,18.5,19,19.5],"tickSize":-5,"labels":false,"title":"F814W","titleFontSize":7.5,"titleAngle":-90,"titleAlign":"left","titleBaseline":"alphabetic","titleX":-152,"titleY":128}}}},
  {"data":{"values":[{}]},"mark":{"type":"point","opacity":0},
   "encoding":{"x":{"datum":1.5,"type":"quantitative","axis":{"orient":"top","values":[1.1,1.2,1.3,1.4,1.6,1.7,1.8,1.9,2.1,2.2],"tickSize":-2.5,"labels":false,"title":null}},
    "y":{"datum":18,"type":"quantitative","axis":{"orient":"right","values":[17.6,17.7,17.8,17.9,18.1,18.2,18.3,18.4,18.6,18.7,18.8,18.9,19.1,19.2,19.3,19.4,19.6,19.7,19.8],"tickSize":-2.5,"labels":false,"title":null}}}}
 ],
 "resolve":{"axis":{"x":"independent","y":"independent"}}
},
{"width":115,"height":232,
 "layer":[
  {"data":{"name":"stars"},"mark":{"type":"square","size":5,"color":"#000","opacity":1},
   "encoding":{
    "x":{"field":"d","type":"quantitative","scale":{"domain":[-1,2],"nice":false,"zero":false},
     "axis":{"orient":"bottom","values":[0,1,2],"format":".4~g","tickSize":-5,"labelPadding":12,"title":"ΔC","titleFontSize":13,"titleAlign":"left","titleBaseline":"alphabetic","titleX":15,"titleY":31}},
    "y":{"field":"m","type":"quantitative","scale":{"domain":[17.5,19.89],"reverse":true,"nice":false,"zero":false},
     "axis":{"orient":"left","values":[17.5,18,18.5,19,19.5],"tickSize":-5,"labels":false,"title":null}}}},
  {"data":{"name":"vl"},"mark":{"type":"rule","strokeWidth":2},
   "encoding":{"x":{"field":"d","type":"quantitative","axis":null},
    "color":{"field":"pop","type":"nominal","scale":{"domain":["b","r"],"range":["#1f8ceb","#ff1a1a"]},"legend":null}}},
  {"data":{"values":[{}]},"mark":{"type":"point","opacity":0},
   "encoding":{"x":{"datum":0,"type":"quantitative","axis":{"orient":"bottom","values":[-0.8,-0.6,-0.4,-0.2,0.2,0.4,0.6,0.8,1.2,1.4,1.6,1.8],"tickSize":-2.5,"labels":false,"title":null}},
    "y":{"datum":18,"type":"quantitative","axis":{"orient":"left","values":[17.6,17.7,17.8,17.9,18.1,18.2,18.3,18.4,18.6,18.7,18.8,18.9,19.1,19.2,19.3,19.4,19.6,19.7,19.8],"tickSize":-2.5,"labels":false,"title":null}}}},
  {"data":{"values":[{}]},"mark":{"type":"point","opacity":0},
   "encoding":{"x":{"datum":0,"type":"quantitative","axis":{"orient":"top","values":[0,1],"tickSize":-5,"labels":false,"title":"F275W,F336W,F438W","titleFontSize":7.5,"titleAngle":0,"titleAlign":"left","titleBaseline":"alphabetic","titleX":35,"titleY":266}},
    "y":{"datum":18,"type":"quantitative","axis":{"orient":"right","values":[17.5,18,18.5,19,19.5],"tickSize":-5,"labels":false,"title":null}}}},
  {"data":{"values":[{}]},"mark":{"type":"point","opacity":0},
   "encoding":{"x":{"datum":0,"type":"quantitative","axis":{"orient":"top","values":[-0.8,-0.6,-0.4,-0.2,0.2,0.4,0.6,0.8,1.2,1.4,1.6,1.8],"tickSize":-2.5,"labels":false,"title":null}},
    "y":{"datum":18,"type":"quantitative","axis":{"orient":"right","values":[17.6,17.7,17.8,17.9,18.1,18.2,18.3,18.4,18.6,18.7,18.8,18.9,19.1,19.2,19.3,19.4,19.6,19.7,19.8],"tickSize":-2.5,"labels":false,"title":null}}}}
 ],
 "resolve":{"axis":{"x":"independent","y":"independent"}}
}
]},
{"width":116,"height":232,
 "layer":[
  {"data":{"name":"hist"},"mark":{"type":"line","interpolate":"step","color":"#999","strokeWidth":1},
   "encoding":{
    "x":{"field":"x","type":"quantitative","scale":{"domain":[-1,2],"nice":false,"zero":false},
     "axis":{"orient":"bottom","values":[0,1,2],"format":".4~g","tickSize":-5,"labelPadding":12,"title":"ΔC","titleFontSize":13,"titleAlign":"left","titleBaseline":"alphabetic","titleX":11,"titleY":31}},
    "y":{"field":"n","type":"quantitative","scale":{"domain":[0,80],"nice":false,"zero":false},
     "axis":{"orient":"left","values":[0,20,40,60,80],"format":".4~g","tickSize":-5,"labelPadding":20,"title":"N*","titleFontSize":12,"titleAngle":-90,"titleAlign":"center","titleBaseline":"alphabetic","titleX":-28,"titleY":116}}}},
  {"data":{"name":"hist"},"mark":{"type":"rule","color":"#777","strokeWidth":1},
   "encoding":{"x":{"field":"x","type":"quantitative","axis":null},"y":{"field":"lo","type":"quantitative","axis":null},"y2":{"field":"hi"}}},
  {"data":{"name":"hist"},"mark":{"type":"tick","orient":"horizontal","size":3,"thickness":1,"color":"#777"},
   "encoding":{"x":{"field":"x","type":"quantitative","axis":null},"y":{"field":"lo","type":"quantitative","axis":null}}},
  {"data":{"name":"hist"},"mark":{"type":"tick","orient":"horizontal","size":3,"thickness":1,"color":"#777"},
   "encoding":{"x":{"field":"x","type":"quantitative","axis":null},"y":{"field":"hi","type":"quantitative","axis":null}}},
  {"data":{"name":"curves"},"mark":{"type":"line","color":"#000","strokeWidth":3},
   "encoding":{"x":{"field":"x","type":"quantitative","axis":null},"y":{"field":"t","type":"quantitative","axis":null}}},
  {"data":{"name":"curves"},"mark":{"type":"line","color":"#1f8ceb","strokeWidth":3},
   "encoding":{"x":{"field":"x","type":"quantitative","axis":null},"y":{"field":"b","type":"quantitative","axis":null}}},
  {"data":{"name":"curves"},"mark":{"type":"line","color":"#ff1a1a","strokeWidth":3},
   "encoding":{"x":{"field":"x","type":"quantitative","axis":null},"y":{"field":"r","type":"quantitative","axis":null}}},
  {"data":{"values":[{}]},"mark":{"type":"point","opacity":0},
   "encoding":{"x":{"datum":0,"type":"quantitative","axis":{"orient":"bottom","values":[-0.8,-0.6,-0.4,-0.2,0.2,0.4,0.6,0.8,1.2,1.4,1.6,1.8],"tickSize":-2.5,"labels":false,"title":null}},
    "y":{"datum":40,"type":"quantitative","axis":{"orient":"left","values":[5,10,15,25,30,35,45,50,55,65,70,75],"tickSize":-2.5,"labels":false,"title":null}}}},
  {"data":{"values":[{}]},"mark":{"type":"point","opacity":0},
   "encoding":{"x":{"datum":0,"type":"quantitative","axis":{"orient":"top","values":[0,1],"tickSize":-5,"labels":false,"title":"F275W,F336W,F438W","titleFontSize":7.5,"titleAngle":0,"titleAlign":"left","titleBaseline":"alphabetic","titleX":31,"titleY":268}},
    "y":{"datum":40,"type":"quantitative","axis":{"orient":"right","values":[0,20,40,60,80],"tickSize":-5,"labels":false,"title":null}}}},
  {"data":{"values":[{}]},"mark":{"type":"point","opacity":0},
   "encoding":{"x":{"datum":0,"type":"quantitative","axis":{"orient":"top","values":[-0.8,-0.6,-0.4,-0.2,0.2,0.4,0.6,0.8,1.2,1.4,1.6,1.8],"tickSize":-2.5,"labels":false,"title":null}},
    "y":{"datum":40,"type":"quantitative","axis":{"orient":"right","values":[5,10,15,25,30,35,45,50,55,65,70,75],"tickSize":-2.5,"labels":false,"title":null}}}}
 ],
 "resolve":{"axis":{"x":"independent","y":"independent"}}
},
{"width":115,"height":232,
 "layer":[
  {"data":{"name":"vr"},"mark":{"type":"rule","color":"#bbb","strokeWidth":1,"strokeDash":[6,4]},
   "encoding":{"x":{"field":"r","type":"quantitative","scale":{"domain":[0,107],"nice":false,"zero":false},
     "axis":{"orient":"bottom","values":[0,50,100],"format":".4~g","tickSize":-5,"labelPadding":12,"title":"[arcsec]","titleAlign":"left","titleBaseline":"alphabetic","titleX":35,"titleY":31}}}},
  {"data":{"name":"means"},"mark":{"type":"rule","strokeWidth":2,"opacity":0.35,"strokeDash":[6,3]},
   "encoding":{"y":{"field":"lo","type":"quantitative","scale":{"domain":[0,1],"nice":false,"zero":false},
     "axis":{"orient":"left","values":[0,0.2,0.4,0.6,0.8,1],"format":".4~g","tickSize":-5,"labelPadding":13,"title":"Population Ratio","titleAngle":-90,"titleAlign":"center","titleBaseline":"alphabetic","titleX":-38,"titleY":116}},
    "color":{"field":"pop","type":"nominal","scale":{"domain":["b","r"],"range":["#1f8ceb","#ff1a1a"]},"legend":null}}},
  {"data":{"name":"means"},"mark":{"type":"rule","strokeWidth":2,"opacity":0.35,"strokeDash":[6,3]},
   "encoding":{"y":{"field":"hi","type":"quantitative","axis":null},"color":{"field":"pop","type":"nominal","legend":null}}},
  {"data":{"name":"means"},"mark":{"type":"rule","strokeWidth":1,"opacity":0.8},
   "encoding":{"y":{"field":"mean","type":"quantitative","axis":null},"color":{"field":"pop","type":"nominal","legend":null}}},
  {"data":{"name":"ratio"},"mark":{"type":"rule","strokeWidth":1},
   "encoding":{"x":{"field":"r","type":"quantitative","axis":null},"y":{"field":"lo","type":"quantitative","axis":null},"y2":{"field":"hi"},"color":{"field":"pop","type":"nominal","legend":null}}},
  {"data":{"name":"ratio"},"mark":{"type":"tick","orient":"horizontal","size":6,"thickness":1},
   "encoding":{"x":{"field":"r","type":"quantitative","axis":null},"y":{"field":"lo","type":"quantitative","axis":null},"color":{"field":"pop","type":"nominal","legend":null}}},
  {"data":{"name":"ratio"},"mark":{"type":"tick","orient":"horizontal","size":6,"thickness":1},
   "encoding":{"x":{"field":"r","type":"quantitative","axis":null},"y":{"field":"hi","type":"quantitative","axis":null},"color":{"field":"pop","type":"nominal","legend":null}}},
  {"data":{"name":"ratio"},"mark":{"type":"circle","size":45,"opacity":1},
   "encoding":{"x":{"field":"r","type":"quantitative","axis":null},"y":{"field":"v","type":"quantitative","axis":null},"color":{"field":"pop","type":"nominal","legend":null}}},
  {"data":{"values":[{}]},"mark":{"type":"point","opacity":0},
   "encoding":{"x":{"datum":50,"type":"quantitative","axis":{"orient":"bottom","values":[10,20,30,40,60,70,80,90],"tickSize":-2.5,"labels":false,"title":null}},
    "y":{"datum":0.5,"type":"quantitative","axis":{"orient":"left","values":[0.05,0.1,0.15,0.25,0.3,0.35,0.45,0.5,0.55,0.65,0.7,0.75,0.85,0.9,0.95],"tickSize":-2.5,"labels":false,"title":null}}}},
  {"data":{"values":[{}]},"mark":{"type":"point","opacity":0},
   "encoding":{"x":{"datum":50,"type":"quantitative","axis":{"orient":"top","values":[0,50,100],"tickSize":-5,"labels":false,"title":"r","titleFontStyle":"italic","titleAngle":0,"titleAlign":"left","titleBaseline":"alphabetic","titleX":21,"titleY":263.5}},
    "y":{"datum":0.5,"type":"quantitative","axis":{"orient":"right","values":[0,0.2,0.4,0.6,0.8,1],"tickSize":-5,"labels":false,"title":null}}}},
  {"data":{"values":[{}]},"mark":{"type":"point","opacity":0},
   "encoding":{"x":{"datum":50,"type":"quantitative","axis":{"orient":"top","values":[10,20,30,40,60,70,80,90],"tickSize":-2.5,"labels":false,"title":null}},
    "y":{"datum":0.5,"type":"quantitative","axis":{"orient":"right","values":[0.05,0.1,0.15,0.25,0.3,0.35,0.45,0.5,0.55,0.65,0.7,0.75,0.85,0.9,0.95],"tickSize":-2.5,"labels":false,"title":null}}}}
 ],
 "resolve":{"axis":{"x":"independent","y":"independent"}}
}
]
}
